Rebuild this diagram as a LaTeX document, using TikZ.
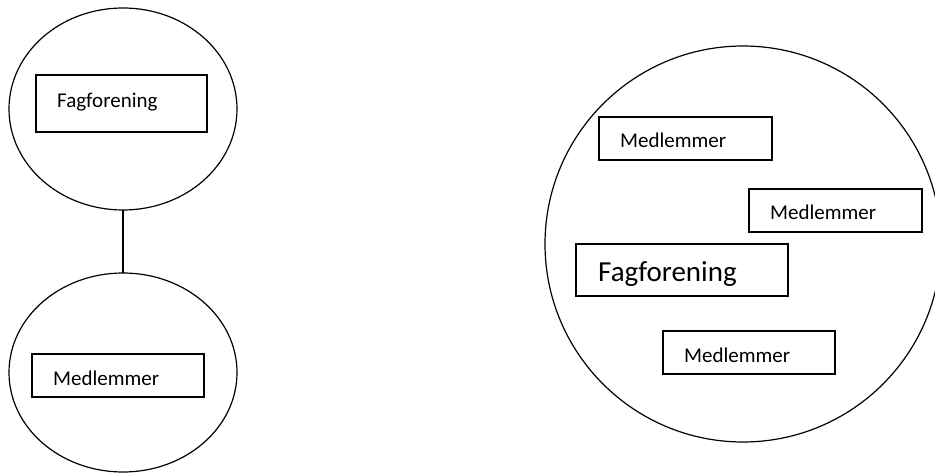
\documentclass[tikz,border=0pt]{standalone}
\usepackage{fontspec}
\setmainfont{Carlito}
\usetikzlibrary{shapes.geometric}
\begin{document}
\begin{tikzpicture}[x=1pt,y=-1pt,
  oval/.style={draw,ellipse,line width=1.2pt,inner sep=0pt,outer sep=0pt},
  box/.style={draw,rectangle,line width=1.4pt,inner sep=0pt,outer sep=0pt,anchor=north west},
  txt/.style={anchor=base west,inner sep=0pt,font=\fontsize{21}{25}\selectfont},
  bigtxt/.style={anchor=base west,inner sep=0pt,font=\fontsize{29}{34}\selectfont}]
\useasboundingbox (0,0) rectangle (935,473);
\clip (0,0) rectangle (935,473);
% left side
\node[oval,minimum width=228,minimum height=202] (top) at (123,109) {};
\node[oval,minimum width=228,minimum height=199] (bot) at (123,372.5) {};
\draw[line width=1.2pt] (top.south) -- (bot.north);
\node[box,minimum width=171,minimum height=57] (lf) at (36,75) {};
\node[txt] (lft) at (57,107.3) {Fagforening};
\node[box,minimum width=172,minimum height=43] (lm) at (32,354) {};
\node[txt] (lmt) at (53,385.7) {Medlemmer};
% right side
\node[draw,circle,line width=1.2pt,inner sep=0pt,minimum size=396] (big) at (743,244) {};
\node[box,minimum width=173,minimum height=43] (m1) at (599,117) {};
\node[txt] (m1t) at (620,148) {Medlemmer};
\node[box,minimum width=173,minimum height=43] (m2) at (749,189) {};
\node[txt] (m2t) at (770,220) {Medlemmer};
\node[box,minimum width=212,minimum height=52] (rf) at (576,244) {};
\begin{scope}
\clip (576,244) rectangle (788,285.5);
\node[bigtxt] (rft) at (598,282) {Fagforening};
\end{scope}
\node[box,minimum width=172,minimum height=43] (m3) at (663,331) {};
\node[txt] (m3t) at (684,362) {Medlemmer};
\end{tikzpicture}
\end{document}
